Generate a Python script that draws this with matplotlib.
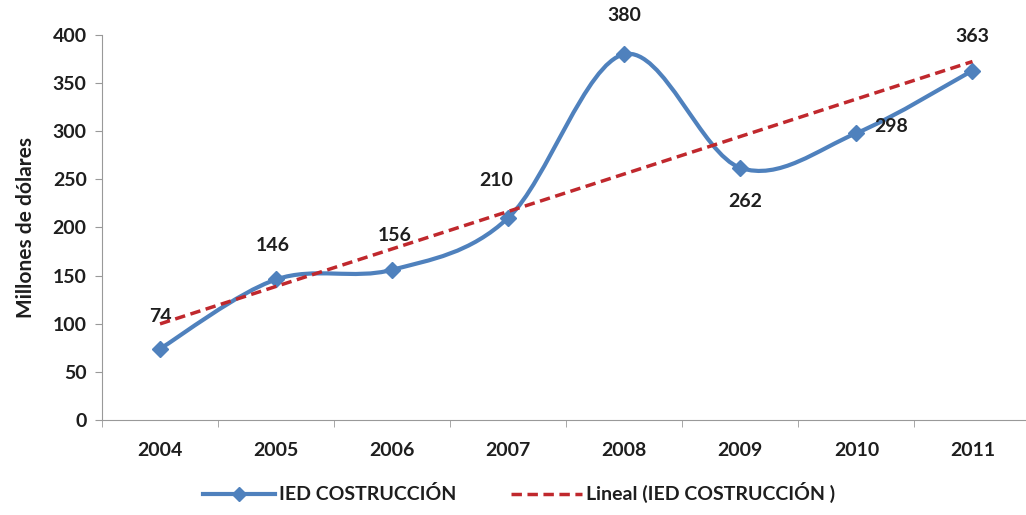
import numpy as np
import matplotlib.pyplot as plt
from matplotlib.path import Path
from matplotlib.patches import PathPatch
from matplotlib.lines import Line2D

years = ['2004', '2005', '2006', '2007', '2008', '2009', '2010', '2011']
ied = [74, 146, 156, 210, 380, 262, 298, 363]
# label offsets in pixels (dx, dy) relative to the point
label_off = [(0, 32), (-3, 34), (3, 34), (-12, 37), (0, 39), (5, -34), (35, 7), (0, 34)]

plt.rcParams['font.family'] = ['Lato', 'DejaVu Sans']
plt.rcParams['font.weight'] = 'bold'
txt = '#1e1e1e'

blue = '#4F81BD'
red = '#C0282D'

fig = plt.figure(figsize=(10.26, 5.15), dpi=100)
ax = fig.add_axes([0.0994, 0.1845, 0.905, 0.7476])

x = np.arange(len(ied))
y = np.array(ied, dtype=float)

# smoothed line (Excel style) drawn as cubic bezier path
pts = np.column_stack([x, y])
verts = [pts[0]]
codes = [Path.MOVETO]
for i in range(len(pts) - 1):
    p0 = pts[i - 1] if i > 0 else pts[i]
    p1 = pts[i]
    p2 = pts[i + 1]
    p3 = pts[i + 2] if i + 2 < len(pts) else pts[i + 1]
    c1 = p1 + (p2 - p0) / 6
    c2 = p2 - (p3 - p1) / 6
    verts += [c1, c2, p2]
    codes += [Path.CURVE4] * 3
ax.add_patch(PathPatch(Path(verts, codes), fc='none', ec=blue, lw=3, zorder=3))
ax.plot(x, y, ls='none', marker='D', ms=8, color=blue, zorder=4)

# linear trendline
coef = np.polyfit(x + 1, y, 1)
trend = np.polyval(coef, x + 1)
ax.plot(x, trend, ls=(0, (3, 1.6)), color=red, lw=2.5, zorder=5)

for xi, yi, (dx, dy) in zip(x, ied, label_off):
    ax.annotate(str(yi), (xi, yi), xytext=(dx, dy), textcoords='offset pixels',
                ha='center', va='center', fontsize=14, fontweight='bold', color=txt)

ax.set_xlim(-0.5, 7.45)
ax.set_ylim(0, 400)
ax.set_yticks(range(0, 401, 50))
ax.set_xticks(x)
ax.set_xticks(np.arange(-0.5, 7.6, 1), minor=True)
ax.set_xticklabels(years)
ax.tick_params(axis='y', labelsize=14, length=5, color='#999999', pad=6, labelcolor=txt)
ax.tick_params(axis='x', which='major', labelsize=14, length=0, pad=16, labelcolor=txt)
ax.tick_params(axis='x', which='minor', length=5, color='#999999')
for s in ['top', 'right']:
    ax.spines[s].set_visible(False)
for s in ['left', 'bottom']:
    ax.spines[s].set_color('#999999')
ax.set_ylabel('Millones de dólares', fontsize=15, fontweight='bold', labelpad=12, color=txt)

handles = [Line2D([], [], color=blue, lw=3, marker='D', ms=7),
           Line2D([], [], color=red, lw=2.5, ls=(0, (3, 1.6)))]
fig.legend(handles, ['IED COSTRUCCIÓN', 'Lineal (IED COSTRUCCIÓN )'],
           loc='center', bbox_to_anchor=(0.506, 0.043), ncol=2, frameon=False,
           fontsize=14, handlelength=3.7, handletextpad=0.2, columnspacing=2.8,
           labelcolor=txt)

fig.savefig('out.png', dpi=100)
